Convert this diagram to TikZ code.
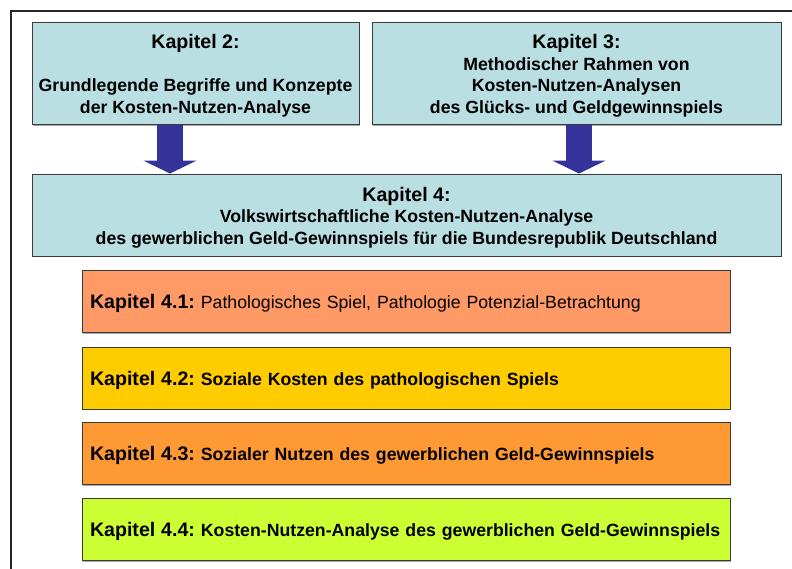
\documentclass[tikz,border=0pt]{standalone}
\usepackage{fontspec}
\setmainfont{Liberation Sans}
\usetikzlibrary{arrows.meta}

\definecolor{chapcyan}{HTML}{B9DFE3}
\definecolor{chapsalmon}{HTML}{FF9966}
\definecolor{chapgold}{HTML}{FFCC00}
\definecolor{chaporange}{HTML}{FF9933}
\definecolor{chaplime}{HTML}{CCFF33}
\definecolor{arrowblue}{HTML}{333399}
\definecolor{edgegray}{HTML}{3A3A3A}

% chapter label, set a little larger than the body text, with a tall strut
\newcommand{\chaptag}[1]{{\fontsize{19.6}{21.6}\selectfont\bfseries\rule{0pt}{19pt}#1}}

\tikzset{
  chapbox/.style={draw=edgegray, line width=1pt, inner sep=0pt, align=center,
    font=\fontsize{17.7}{21.6}\selectfont\bfseries\frenchspacing,
    preaction={fill=black!35, transform canvas={shift={(1.2pt,-1.2pt)}}}},
  topbox/.style={chapbox, fill=chapcyan},
  subbox/.style={chapbox, minimum width=648pt, minimum height=62pt,
    text width=632pt, align=left, inner xsep=8pt},
  bigarrow/.style={arrowblue, line width=26pt,
    -{Triangle[width=53pt,length=13pt]}},
}

\begin{document}
\begin{tikzpicture}[x=1pt,y=-1pt]
  \useasboundingbox (0,0) rectangle (792,568);
  \fill[white] (0,0) rectangle (792,568);
  \begin{scope}
    \clip (0,0) rectangle (792,568);
    % outer frame, running past the right and bottom page edges
    \draw[line width=1.5pt, black!85] (11,11) rectangle (800,580);
  \end{scope}

  % upper row
  \node[topbox, minimum width=327pt, minimum height=102pt] (k2) at (195.5,73.5)
    {\chaptag{Kapitel 2:}\\[21.6pt]Grundlegende Begriffe und Konzepte\\der Kosten-Nutzen-Analyse};
  \node[topbox, minimum width=409pt, minimum height=102pt] (k3) at (576.5,73.5)
    {\chaptag{Kapitel 3:}\\Methodischer Rahmen von\\Kosten-Nutzen-Analysen\\des Glücks- und Geldgewinnspiels};

  % main chapter
  \node[topbox, minimum width=749pt, minimum height=82pt] (k4) at (406.5,215)
    {\chaptag{Kapitel 4:}\\Volkswirtschaftliche Kosten-Nutzen-Analyse\\des gewerblichen Geld-Gewinnspiels für die Bundesrepublik Deutschland};

  % arrows into chapter 4
  \coordinate (a2) at ([xshift=-25.5pt]k2.south);
  \coordinate (a3) at ([xshift=2.5pt]k3.south);
  \draw[bigarrow] (a2) -- (a2 |- k4.north);
  \draw[bigarrow] (a3) -- (a3 |- k4.north);

  % sub-chapters
  \node[subbox, fill=chapsalmon] (k41) at (406,301.5)
    {\chaptag{Kapitel 4.1:} \mdseries Pathologisches Spiel, Pathologie Potenzial-Betrachtung};
  \node[subbox, fill=chapgold] (k42) at (406,378)
    {\chaptag{Kapitel 4.2:} Soziale Kosten des pathologischen Spiels};
  \node[subbox, fill=chaporange] (k43) at (406,453.5)
    {\chaptag{Kapitel 4.3:} Sozialer Nutzen des gewerblichen Geld-Gewinnspiels};
  \node[subbox, fill=chaplime] (k44) at (406,529.5)
    {\chaptag{Kapitel 4.4:} Kosten-Nutzen-Analyse des gewerblichen Geld-Gewinnspiels};
\end{tikzpicture}
\end{document}
